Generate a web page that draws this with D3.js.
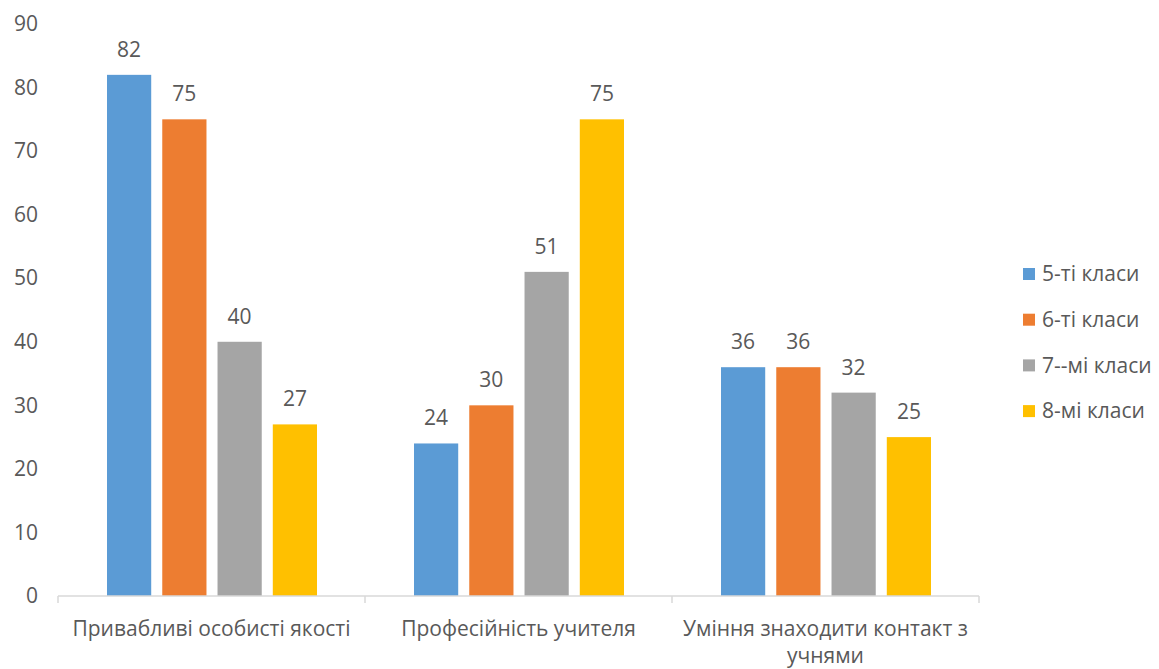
<html>
<head>
<meta charset="utf-8">
<script src="https://d3js.org/d3.v7.min.js"></script>
<style>
  body { margin: 0; background: #fff; }
  text { font-family: "Open Sans", "Noto Sans", sans-serif; fill: #595959; }
</style>
</head>
<body>
<div id="chart"></div>
<script>
// data
var categories = ["Привабливі особисті якості", "Професійність учителя", "Уміння знаходити контакт з\nучнями"];
var seriesNames = ["5-ті класи", "6-ті класи", "7--мі класи", "8-мі класи"];
var seriesColors = ["#5B9BD5", "#ED7D31", "#A5A5A5", "#FFC000"];
var values5 = [82, 24, 36];
var values6 = [75, 30, 36];
var values7 = [40, 51, 32];
var values8 = [27, 75, 25];
var yTicks = [0, 10, 20, 30, 40, 50, 60, 70, 80, 90];

var seriesValues = [values5, values6, values7, values8];
var fs = "21px";

var w = 1159, h = 669;
var svg = d3.select("#chart").append("svg").attr("width", w).attr("height", h);

var x0 = d3.scaleBand().domain(categories).range([58, 979]).padding(0);
var x1 = d3.scaleBand().domain(seriesNames).range([49, x0.bandwidth() - 48]).paddingInner(0.2).paddingOuter(0);
var y = d3.scaleLinear().domain([0, 90]).range([596, 24]);

// y labels
var yAxis = d3.axisLeft(y).tickValues(yTicks).tickSize(0).tickPadding(0);
var yg = svg.append("g").attr("transform", "translate(38,0)").call(yAxis);
yg.select(".domain").remove();
yg.selectAll("text").style("font-size", fs).attr("fill", "#595959");

// bars
var groups = svg.append("g").selectAll("g").data(categories).enter().append("g")
  .attr("transform", function(d){ return "translate(" + x0(d) + ",0)"; });

groups.each(function(cat, ci){
  var g = d3.select(this);
  var rows = seriesNames.map(function(s, si){ return {s: s, v: seriesValues[si][ci], c: seriesColors[si]}; });
  g.selectAll("rect").data(rows).enter().append("rect")
    .attr("x", function(d){ return x1(d.s); })
    .attr("width", x1.bandwidth())
    .attr("y", function(d){ return y(d.v); })
    .attr("height", function(d){ return y(0) - y(d.v); })
    .attr("fill", function(d){ return d.c; });
  g.selectAll("text.val").data(rows).enter().append("text")
    .attr("class", "val")
    .attr("x", function(d){ return x1(d.s) + x1.bandwidth() / 2; })
    .attr("y", function(d){ return y(d.v) - 18; })
    .attr("text-anchor", "middle")
    .style("font-size", fs)
    .text(function(d){ return d.v; });
});

// x axis
var xg = svg.append("g").attr("transform", "translate(0," + y(0) + ")");
xg.append("line").attr("x1", 58).attr("x2", 979).attr("y1", 0).attr("y2", 0)
  .attr("stroke", "#d9d9d9").attr("stroke-width", 1.5);
var bounds = categories.map(function(c){ return x0(c); }).concat([x0.range()[1]]);
xg.selectAll("line.tick").data(bounds).enter().append("line")
  .attr("class", "tick")
  .attr("x1", function(d){ return d; }).attr("x2", function(d){ return d; })
  .attr("y1", 0).attr("y2", 7)
  .attr("stroke", "#d9d9d9").attr("stroke-width", 1.5);
xg.selectAll("text.cat").data(categories).enter().append("text")
  .attr("class", "cat")
  .attr("text-anchor", "middle")
  .attr("transform", function(d){ return "translate(" + (x0(d) + x0.bandwidth() / 2) + ",40)"; })
  .style("font-size", fs)
  .each(function(d){
    var t = d3.select(this);
    d.split("\n").forEach(function(line, i){
      t.append("tspan").attr("x", 0).attr("dy", i === 0 ? 0 : 27).text(line);
    });
  });

// legend
var legend = svg.append("g").selectAll("g").data(seriesNames).enter().append("g")
  .attr("transform", function(d, i){ return "translate(1023," + (274 + i * 45.7) + ")"; });
legend.append("rect").attr("x", 0).attr("y", -6).attr("width", 12).attr("height", 12)
  .attr("fill", function(d, i){ return seriesColors[i]; });
legend.append("text").attr("x", 19).attr("y", 0).attr("dy", "0.35em")
  .style("font-size", fs)
  .text(function(d){ return d; });
</script>
</body>
</html>
